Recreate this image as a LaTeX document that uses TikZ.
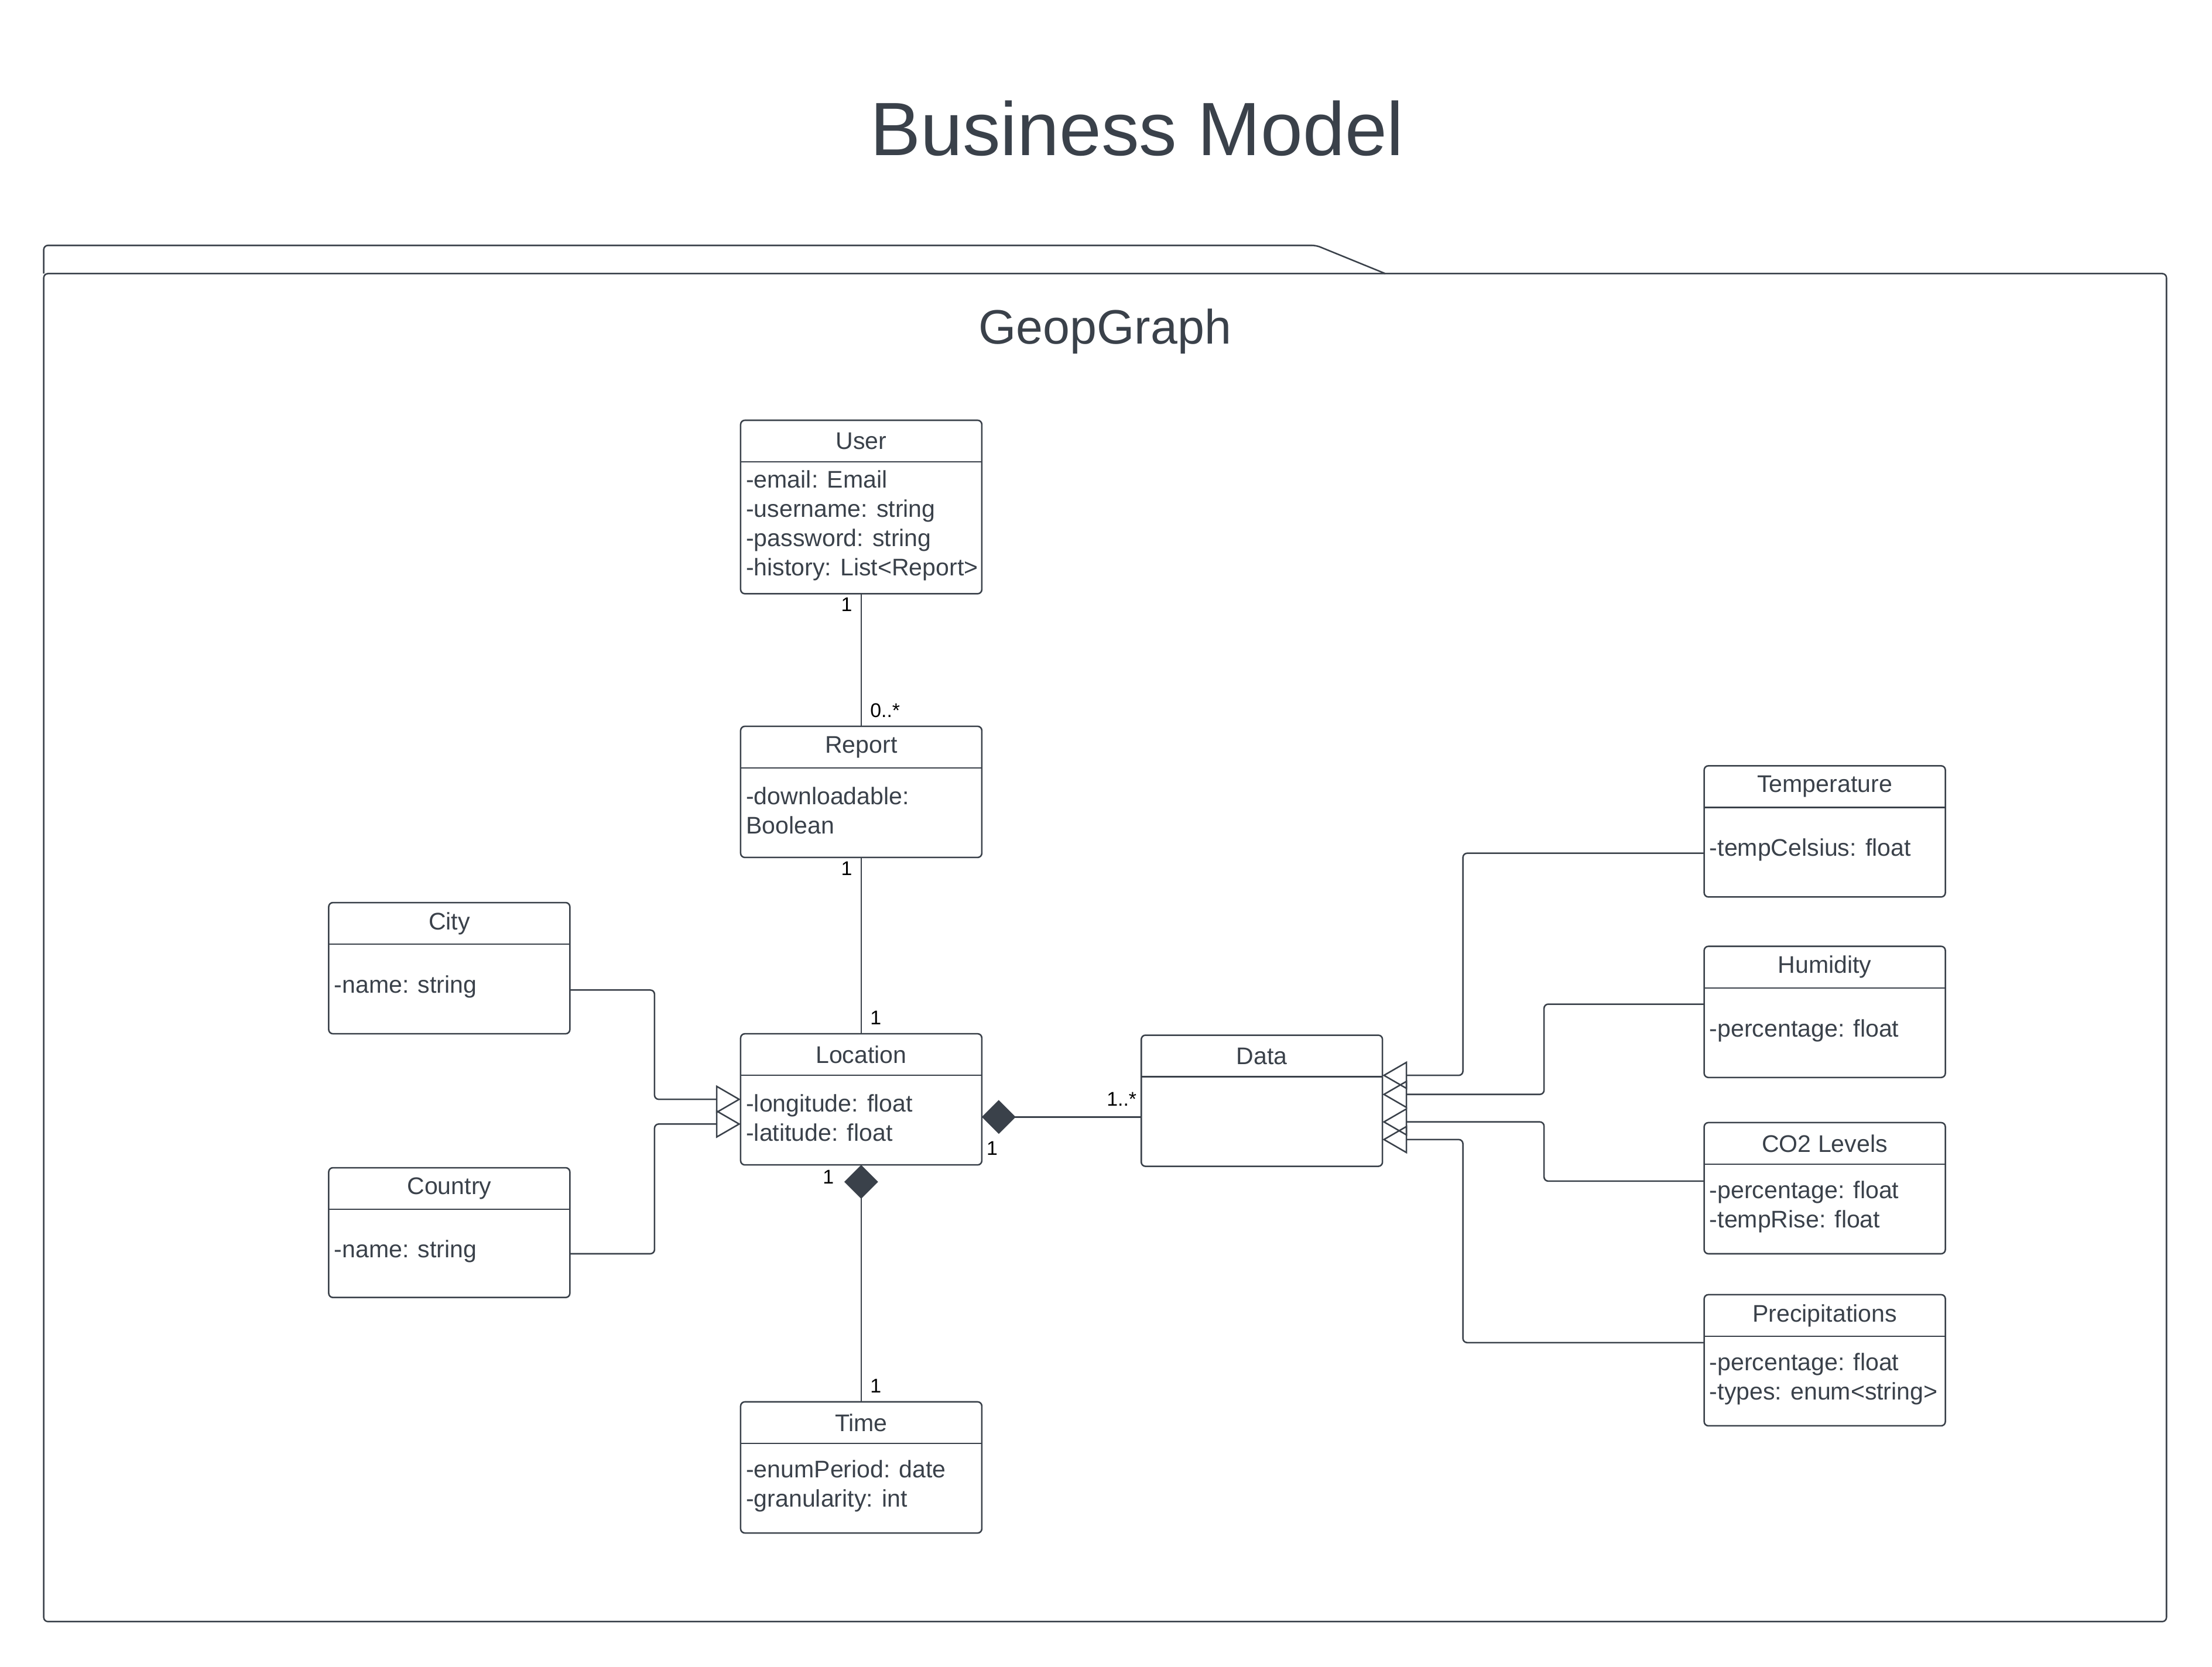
\documentclass[tikz,border=0pt]{standalone}
\usepackage{fontspec}
\setmainfont{Liberation Sans}
\usetikzlibrary{arrows.meta,calc}
\definecolor{umlgray}{HTML}{3A414A}

\begin{document}
\begin{tikzpicture}[x=0.02cm,y=-0.02cm,
    umlline/.style={draw=umlgray,line width=0.6pt},
    classbox/.style={umlline,rounded corners=0.06cm,minimum width=3.42cm,inner sep=0pt,outer sep=0pt},
    classtext/.style={text=umlgray,font=\fontsize{9.7}{11.8}\selectfont,inner sep=0pt,align=left},
    mult/.style={font=\fontsize{8}{9.6}\selectfont,text=black},
    gen/.style={umlline,rounded corners=0.06cm,-{Triangle[open,length=0.35cm,width=0.4cm]}},
    comp/.style={umlline,{Diamond[length=0.48cm,width=0.48cm]}-}]
    \useasboundingbox (0,0) rectangle (1568,1182);

    \node[text=umlgray,font=\fontsize{30.5}{36}\selectfont] (title) at (806,91) {Business Model};

    % package frame
    \node[classbox,minimum width=30.1cm,minimum height=19.12cm,anchor=north west] (pkg) at (31,194) {};
    \draw[umlline,rounded corners=0.06cm] (pkg.north west) -- ++(0,-20) -- ++(902,0) -- ++(49,20);
    \node[text=umlgray,font=\fontsize{19.5}{23}\selectfont] (pkgname) at ($(pkg.north)+(0,41)$) {GeopGraph};

    % classes: name/left/top/height/title/attributes
    \foreach \nm/\bx/\by/\bh/\ttl/\attr in {
        user/525/298/123/User/{-email: Email\\-username: string\\-password: string\\-history: List<Report>},
        report/525/515/93/Report/{-downloadable:\\Boolean},
        city/233/640/93/City/{-name: string},
        country/233/828/92/Country/{-name: string},
        location/525/733/93/Location/{-longitude: float\\-latitude: float},
        data/809/734/93/Data/{},
        time/525/994/93/Time/{-enumPeriod: date\\-granularity: int},
        temperature/1208/543/93/Temperature/{-tempCelsius: float},
        humidity/1208/671/93/Humidity/{-percentage: float},
        co2/1208/796/93/CO2 Levels/{-percentage: float\\-tempRise: float},
        precip/1208/918/93/Precipitations/{-percentage: float\\-types: enum<string>}}{
        \node[classbox,minimum height=\bh*0.02cm,anchor=north west] (\nm) at (\bx,\by) {};
        \node[classtext] (\nm-title) at ($(\nm.north)+(0,14.75)$) {\ttl};
        \draw[umlline] ($(\nm.north west)+(0,29.5)$) -- ($(\nm.north east)+(0,29.5)$);
        \node[classtext,anchor=west] (\nm-attr) at ($(\nm.north west)+(3.5,{(29.5+\bh)/2-1.5})$) {\attr};
    }

    % associations
    \draw[umlline] (user.south) -- (report.north)
        node[mult,pos=0,anchor=north east,yshift=0.07cm] {1}
        node[mult,pos=1,anchor=south west] {0..*};
    \draw[umlline] (report.south) -- (location.north)
        node[mult,pos=0,anchor=north east,yshift=0.07cm] {1}
        node[mult,pos=1,anchor=south west] {1};
    \draw[comp] (location.south) -- (time.north)
        node[mult,pos=0,anchor=north east,xshift=-0.26cm,yshift=0.05cm] {1}
        node[mult,pos=1,anchor=south west] {1};
    \draw[comp] ($(location.east)+(0,12.5)$) coordinate (locdata) -- (locdata -| data.west)
        node[mult,pos=0,anchor=north west,xshift=-0.06cm,yshift=-0.22cm] {1}
        node[mult,pos=1,anchor=south east,xshift=0.06cm,yshift=0.03cm] {1..*};

    % generalisations
    \draw[gen] ($(city.east)+(0,15.5)$) -- ++(60,0) |- (location.west);
    \draw[gen] ($(country.east)+(0,15)$) -- ++(60,0) |- ($(location.west)+(0,17.5)$);
    \foreach \sub/\dy/\dx/\ty in {temperature/15.5/-171/-18,humidity/-5.5/-113.5/-4.5,
        co2/-5/-113.5/15,precip/-12.5/-171/27.5}{
        \draw[gen] ($(\sub.west)+(0,\dy)$) -- ++(\dx,0) |- ($(data.east)+(0,\ty)$);
    }
\end{tikzpicture}
\end{document}
